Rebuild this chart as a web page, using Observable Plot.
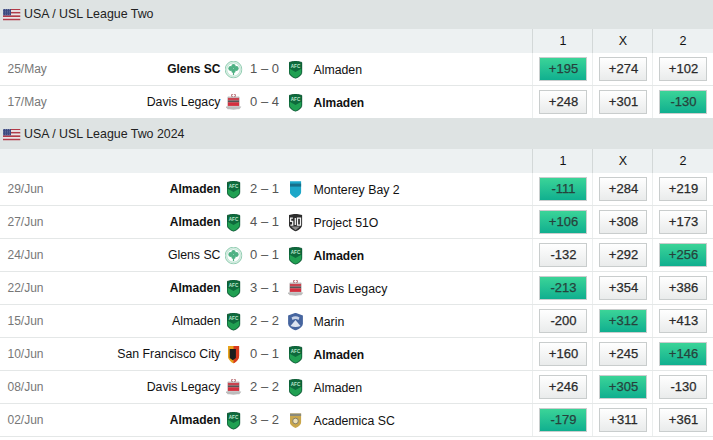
<!DOCTYPE html>
<html><head><meta charset="utf-8">
<script src="https://cdn.jsdelivr.net/npm/d3@7"></script>
<script src="https://cdn.jsdelivr.net/npm/@observablehq/plot@0.6"></script>
<style>html,body{margin:0;padding:0;background:#fff}svg{display:block}</style>
</head><body><div id="chart"></div>
<script>
// ---- data ----
const leagues = ["USA / USL League Two", "USA / USL League Two 2024"];
const matchLeague = [0,0,1,1,1,1,1,1,1,1];
const dates = ["25/May","17/May","29/Jun","27/Jun","24/Jun","22/Jun","15/Jun","10/Jun","08/Jun","02/Jun"];
const homeTeams = ["Glens SC","Davis Legacy","Almaden","Almaden","Glens SC","Almaden","Almaden","San Francisco City","Davis Legacy","Almaden"];
const awayTeams = ["Almaden","Almaden","Monterey Bay 2","Project 51O","Almaden","Davis Legacy","Marin","Almaden","Almaden","Academica SC"];
const homeGoals = [1,0,2,4,0,3,2,0,2,3];
const awayGoals = [0,4,1,1,1,1,2,1,2,2];
const odds1 = ["+195","+248","-111","+106","-132","-213","-200","+160","+246","-179"];
const oddsX = ["+274","+301","+284","+308","+292","+354","+312","+245","+305","+311"];
const odds2 = ["+102","-130","+219","+173","+256","+386","+413","+146","-130","+361"];
const outcomeLabels = ["1","X","2"];

// ---- layout ----
const W = 713, H = 440;
const barH = 31, subH = 24, rowH = 33;
const tables = [];
const rows = [];
let cursor = 0;
leagues.forEach((name, li) => {
  const barTop = li === 0 ? 0 : cursor;
  const barBottom = li === 0 ? 29 : barTop + barH;
  const subBottom = barBottom + subH;
  tables.push({name, barTop, barBottom, subBottom});
  cursor = subBottom;
  dates.forEach((date, i) => {
    if (matchLeague[i] !== li) return;
    rows.push({i, date, rowTop: cursor, mid: cursor + 16});
    cursor += rowH;
  });
  if (li === 0) cursor -= 1;
});
const colX = [563, 623, 683];
const sepX = [533, 593, 653];
const xHome = 220, xHomeLogo = 233, xScore = 264, xAwayLogo = 295, xAway = 313;

const matches = rows.map(r => {
  const i = r.i;
  const hg = homeGoals[i], ag = awayGoals[i];
  return {...r, home: homeTeams[i], away: awayTeams[i], score: `${hg} – ${ag}`,
    homeWon: hg > ag, awayWon: ag > hg, outcome: hg > ag ? 0 : hg < ag ? 2 : 1};
});
const buttons = matches.flatMap(m => [odds1, oddsX, odds2].map((o, c) => ({
  mid: m.mid, col: c, label: o[m.i], hot: m.outcome === c })));

// ---- small crests and flag (pictures) ----
const uri = (w, h, body) => "data:image/svg+xml," + encodeURIComponent(
  `<svg xmlns="http://www.w3.org/2000/svg" width="${w}" height="${h}" viewBox="0 0 ${w} ${h}">${body}</svg>`);
const stripes = d3.range(7).map(k => `<rect x="0" y="${k*12/7}" width="18" height="${12/7}" fill="${k%2?'#ece6e8':'#b23a48'}"/>`).join("");
const flag = uri(18, 12, stripes + `<rect width="8.5" height="6.9" fill="#3c4a80"/>` +
  d3.range(3).flatMap(a => d3.range(4).map(b => `<circle cx="${1.2+b*2}" cy="${1.2+a*2.2}" r=".45" fill="#c4c8dc"/>`)).join(""));
const crest = {
  "Almaden": [14, 18, uri(14, 18,
    `<path d="M.5 2 7 .2 13.5 2V11.5Q13.5 15 7 18 .5 15 .5 11.5Z" fill="#0e6a3c" stroke="#0a4f2e" stroke-width=".7"/>
     <path d="M1.2 8.2 7 11.4 12.8 8.2V11.5Q12.8 14.6 7 17.3 1.2 14.6 1.2 11.5Z" fill="#20a052"/>
     <text x="7" y="7.2" font-family="Liberation Sans" font-size="4.6" font-weight="700" text-anchor="middle" fill="#bfe6cd">AFC</text>`)],
  "Glens SC": [18, 18, uri(18, 18,
    `<circle cx="9" cy="9" r="8.4" fill="#d8efe4" stroke="#94cdb3" stroke-width="1"/>
     <circle cx="9" cy="9" r="6.6" fill="#fff" stroke="#a9d8c2" stroke-width=".6"/>
     <g fill="#4fb184"><circle cx="6.2" cy="8" r="2.4"/><circle cx="11.8" cy="8" r="2.4"/><circle cx="9" cy="5.6" r="2.2"/><circle cx="9" cy="10.2" r="2.2"/><rect x="8.4" y="10" width="1.2" height="4.6"/></g>`)],
  "Davis Legacy": [16, 18, uri(16, 18,
    `<circle cx="8" cy="2" r="1.9" fill="#fff" stroke="#a23a42" stroke-width=".9"/>
     <path d="M2.4 3.4H13.6V13.8Q8 17.8 2.4 13.8Z" fill="#d2d2d2" stroke="#9a9a9a" stroke-width=".5"/>
     <rect x="2.4" y="4.4" width="11.2" height="2.6" fill="#c9424e"/><rect x="2.4" y="7" width="11.2" height="1.8" fill="#555"/><rect x="2.4" y="8.8" width="11.2" height="3.6" fill="#d4303f"/>
     <path d="M0 13H16L13.8 15.8H2.2Z" fill="#bcbcbc"/>`)],
  "Monterey Bay 2": [12, 17, uri(12, 17,
    `<path d="M.3 .3H11.7V11Q11.7 14 6 17 .3 14 .3 11Z" fill="#1da7c8"/><rect x=".3" y="2.6" width="11.4" height="3" fill="#176f8a"/>`)],
  "Project 51O": [14, 18, uri(14, 18,
    `<path d="M.3 1.5 7 .2 13.7 1.5V11Q13.7 15 7 18 .3 15 .3 11Z" fill="#2c2c2c"/>
     <path d="M4.4 4.6H2.1V7.8H4.2V11.6H1.9M6.8 4.6V11.6M9 4.6H12V11.6H9Z" fill="none" stroke="#f2f2f2" stroke-width="1.3"/>
     <path d="M2.5 13H11.5L7 16.8Z" fill="#8a8a8a"/>`)],
  "Marin": [16, 18, uri(16, 18,
    `<path d="M.6 3 8 .3 15.4 3V11Q15.4 15 8 18 .6 15 .6 11Z" fill="#46659f"/>
     <path d="M4 5Q8 2.5 12 5L11 7.4Q8 5.8 5 7.4Z" fill="#c9d3e6"/>
     <path d="M3 13.4 8 7.6 13 13.4Q8 15.4 3 13.4Z" fill="#dde4f0"/>`)],
  "San Francisco City": [12, 18, uri(12, 18,
    `<path d="M.3 .6H11.7V10Q11.7 14.5 6 18 .3 14.5 .3 10Z" fill="#e8a31c"/>
     <path d="M6 .6H11.7V10Q11.7 14.5 6 18Z" fill="#d8391f"/>
     <path d="M2.2 3.6H8.4V12.5L5.3 14.8 2.2 12.5Z" fill="#1c1c1c"/>`)],
  "Academica SC": [12, 15, uri(12, 15,
    `<path d="M.3 .6H11.7V9Q11.7 12.5 6 15 .3 12.5 .3 9Z" fill="#c9a64b"/>
     <rect x=".3" y=".6" width="11.4" height="2.4" fill="#8a8a7a"/>
     <circle cx="6" cy="8" r="2.8" fill="#eee0b5" stroke="#6f6f68" stroke-width=".8"/>`)]
};
const logoMark = (team, x) => Plot.image(matches, {
  x: () => x, y: "mid",
  src: d => crest[team(d)][2],
  width: d => crest[team(d)][0],
  height: d => crest[team(d)][1]
});

// gradients used by the odds buttons
const defs = () => {
  const g = d3.create("svg:defs");
  const add = (id, a, b) => {
    const l = g.append("linearGradient").attr("id", id).attr("x1", 0).attr("x2", 0).attr("y1", 0).attr("y2", 1);
    l.append("stop").attr("offset", "0%").attr("stop-color", a);
    l.append("stop").attr("offset", "100%").attr("stop-color", b);
  };
  add("btnHot", "#3cd598", "#0fae8f");
  add("btnCold", "#ffffff", "#e9ebeb");
  return g.node();
};

const btnRect = (hot) => Plot.rect(buttons.filter(b => b.hot === hot), {
  x1: d => colX[d.col] - 23.5, x2: d => colX[d.col] + 23.5,
  y1: d => d.mid - 11.5, y2: d => d.mid + 11.5,
  fill: hot ? "url(#btnHot)" : "url(#btnCold)",
  stroke: "#c9cdcd", strokeWidth: 1
});

const nameMark = (field, x, anchor, dy, bold) => Plot.text(matches.filter(d => (field === "home" ? d.homeWon : d.awayWon) === bold), {
  x: () => x, y: d => d.mid + dy, text: field, textAnchor: anchor, lineAnchor: "middle",
  fontSize: bold ? 12 : 12.3, fill: "#111", fontWeight: bold ? 700 : 400
});
const oddsText = (hot) => Plot.text(buttons.filter(b => b.hot === hot), {
  x: d => colX[d.col], y: d => d.mid - 0.5, text: "label", textAnchor: "middle", lineAnchor: "middle",
  fontSize: 13, fill: hot ? "#26423c" : "#2a2a2a", stroke: hot ? "#26423c" : "#2a2a2a", strokeWidth: 0.25
});

const chart = Plot.plot({
  width: W, height: H, margin: 0,
  x: {type: "linear", domain: [0, W], range: [0, W], axis: null},
  y: {type: "linear", domain: [0, H], range: [0, H], axis: null},
  style: {fontFamily: "'Liberation Sans', Arial, sans-serif", background: "#fff", overflow: "hidden"},
  marks: [
    defs,
    // bands
    Plot.rect(tables, {x1: () => 0, x2: () => W, y1: "barTop", y2: "barBottom", fill: "#dee3e3"}),
    Plot.rect(tables, {x1: () => 0, x2: () => W, y1: "barBottom", y2: "subBottom", fill: "#edf1f2"}),
    // row rules
    Plot.rect(matches, {x1: () => 0, x2: () => W, y1: d => d.rowTop + rowH - 1, y2: d => d.rowTop + rowH, fill: "#e4e7e7"}),
    // column rules
    Plot.rect(matches.flatMap(m => sepX.map(x => ({x, rowTop: m.rowTop}))), {
      x1: d => d.x - 1, x2: "x", y1: "rowTop", y2: d => d.rowTop + rowH - 1, fill: "#ebeeee"}),
    Plot.rect(tables.flatMap(t => sepX.map(x => ({x, t}))), {
      x1: d => d.x - 1, x2: "x", y1: d => d.t.barBottom, y2: d => d.t.subBottom, fill: "#d3d8d8"}),
    // re-cover league bar 2 over last rule of first table
    Plot.rect(tables.slice(1), {x1: () => 0, x2: () => W, y1: "barTop", y2: "barBottom", fill: "#dee3e3"}),
    // league heading
    Plot.image(tables, {x: () => 11, y: d => d.barBottom - 15, src: () => flag, width: 18, height: 12}),
    Plot.text(tables, {x: () => 23.5, y: d => d.barBottom - 15.5, text: "name", textAnchor: "start", lineAnchor: "middle", fontSize: 12.4, fill: "#222"}),
    // 1 X 2 header
    Plot.text(tables.flatMap(t => outcomeLabels.map((l, c) => ({l, c, y: (t.barBottom + t.subBottom) / 2 - 0.5}))), {
      x: d => colX[d.c] - 0.5, y: "y", text: "l", textAnchor: "middle", lineAnchor: "middle", fontSize: 12.5, fill: "#111"}),
    // match rows
    Plot.text(matches, {x: () => 7, y: d => d.mid - 0.2, text: "date", textAnchor: "start", lineAnchor: "middle", fontSize: 12, fill: "#777"}),
    nameMark("home", xHome, "end", -0.5, false),
    nameMark("home", xHome, "end", -0.5, true),
    Plot.text(matches, {x: () => xScore, y: d => d.mid - 0.5, text: "score", textAnchor: "middle", lineAnchor: "middle", fontSize: 13, fill: "#555"}),
    nameMark("away", xAway, "start", 0.4, false),
    nameMark("away", xAway, "start", 0.4, true),
    logoMark(d => d.home, xHomeLogo),
    logoMark(d => d.away, xAwayLogo),
    // odds
    btnRect(false),
    btnRect(true),
    oddsText(false),
    oddsText(true)
  ]
});
document.getElementById("chart").append(chart);
</script></body></html>
